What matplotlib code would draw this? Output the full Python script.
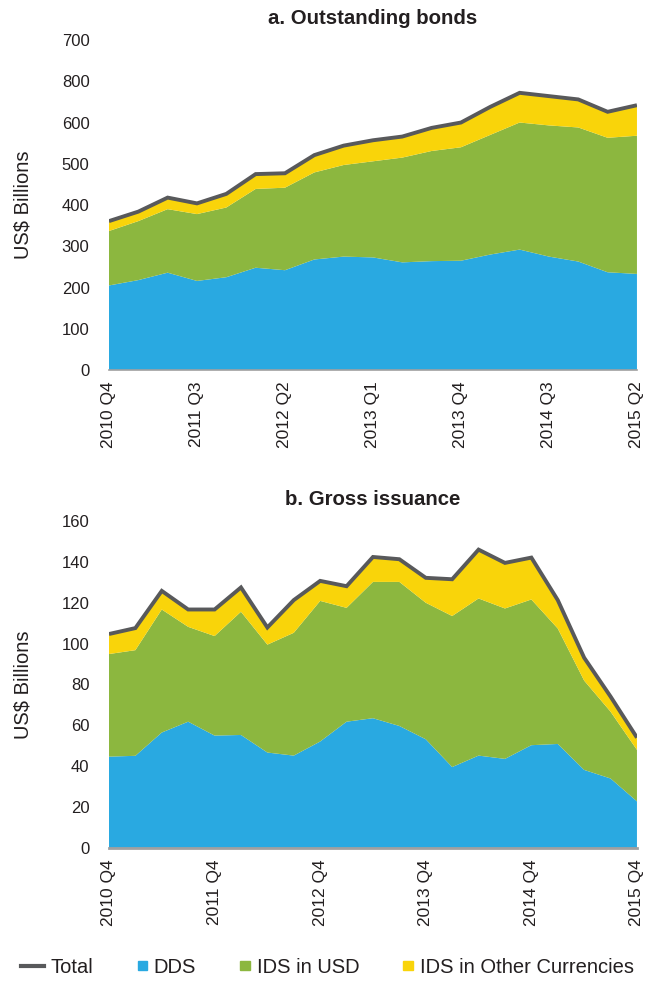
import numpy as np
import matplotlib
matplotlib.use("Agg")
import matplotlib.pyplot as plt
from matplotlib.lines import Line2D
from matplotlib.patches import Patch, Rectangle
from matplotlib.legend_handler import HandlerPatch

plt.rcParams['font.family'] = ['Liberation Sans', 'DejaVu Sans']

# a. outstanding bonds, 2010 Q4 .. 2015 Q2
out_dds = [205, 218, 236, 216, 225, 248, 242, 268, 275, 273, 261, 264, 265, 280, 292, 275, 263, 237, 233]
out_usd = [132, 143, 154, 162, 169, 191, 200, 211, 222, 233, 254, 267, 275, 290, 308, 318, 325, 326, 335]
out_oth = [24, 23, 28, 26, 33, 36, 35, 42, 47, 51, 51, 56, 60, 68, 72, 71, 68, 63, 74]
out_ticks = ['2010 Q4', '2011 Q3', '2012 Q2', '2013 Q1', '2013 Q4', '2014 Q3', '2015 Q2']
out_ylabels = ['0', '100', '200', '300', '400', '500', '600', '800', '700']

# b. gross issuance, 2010 Q4 .. 2015 Q4
iss_dds = [44.7, 45.1, 56.5, 61.8, 55.0, 55.3, 46.7, 45.2, 52.1, 61.8, 63.5,
           59.7, 53.2, 39.6, 45.2, 43.6, 50.3, 50.9, 38.2, 34.0, 22.8]
iss_usd = [50.2, 51.7, 60.2, 46.4, 48.7, 60.3, 52.8, 60.1, 68.8, 55.7, 66.7,
           70.5, 66.8, 73.9, 76.9, 73.6, 71.3, 56.5, 43.7, 32.7, 25.2]
iss_oth = [9.8, 10.8, 9.1, 8.5, 13.0, 11.9, 8.4, 16.0, 9.8, 10.6, 12.2,
           11.1, 12.2, 18.0, 23.9, 22.3, 20.5, 13.9, 11.2, 7.4, 6.0]
iss_ticks = ['2010 Q4', '2011 Q4', '2012 Q4', '2013 Q4', '2014 Q4', '2015 Q4']
iss_ylabels = ['0', '20', '40', '60', '80', '100', '120', '140', '160']

c_dds = '#29a9e1'
c_usd = '#8cb73f'
c_oth = '#f9d40a'
c_tot = '#58595b'
c_txt = '#231f20'

fig = plt.figure(figsize=(6.46, 9.81), dpi=100)
ax1 = fig.add_axes([0.1687, 0.6228, 0.8173, 0.3364])
ax2 = fig.add_axes([0.1687, 0.1356, 0.8173, 0.3333])


def draw(ax, dds, usd, oth, step, ticks, ylabels, ymax, ystep, title, spine_w):
    x = np.arange(len(dds))
    total = np.array(dds) + np.array(usd) + np.array(oth)
    ax.stackplot(x, dds, usd, oth, colors=[c_dds, c_usd, c_oth], linewidth=0)
    ax.plot(x, total, color=c_tot, lw=2.8, solid_joinstyle='miter', solid_capstyle='butt')
    ax.set_xlim(0, len(dds) - 1)
    ax.set_ylim(0, ymax)
    ax.set_xticks(x[::step])
    ax.set_xticklabels(ticks, rotation=90, fontsize=12.5)
    ax.set_yticks(np.arange(0, ymax + 1, ystep))
    ax.set_yticklabels(ylabels, fontsize=12)
    ax.tick_params(axis='y', length=0, pad=14, colors=c_txt)
    ax.tick_params(axis='x', length=0, labelcolor=c_txt, pad=8)
    for s in ['top', 'right', 'left']:
        ax.spines[s].set_visible(False)
    ax.spines['bottom'].set_color('#a0a0a0')
    ax.spines['bottom'].set_linewidth(spine_w)
    ax.set_ylabel('US$ Billions', fontsize=14.5, color=c_txt)
    ax.yaxis.set_label_coords(-0.145, 0.5)
    ax.set_title(title, fontsize=14.7, fontweight='bold', color=c_txt, pad=11.5)


draw(ax1, out_dds, out_usd, out_oth, 3, out_ticks, out_ylabels, 800, 100,
     'a. Outstanding bonds', 1.2)
draw(ax2, iss_dds, iss_usd, iss_oth, 4, iss_ticks, iss_ylabels, 160, 20,
     'b. Gross issuance', 2.0)


def small_square(legend, orig_handle, xdescent, ydescent, width, height, fontsize):
    # small square sitting at the right end of the handle box
    s = 6.6
    return Rectangle((-xdescent + width - s, -ydescent + (height - s) / 2), s, s)


handles = [Line2D([0], [0], color=c_tot, lw=3),
           Patch(color=c_dds), Patch(color=c_usd), Patch(color=c_oth)]
labels = ['Total', 'DDS', 'IDS in USD', 'IDS in Other Currencies']
fig.legend(handles, labels, loc='center', bbox_to_anchor=(0.507, 0.014), ncol=4,
           frameon=False, fontsize=14.5, handlelength=1.1, handleheight=0.7,
           handletextpad=0.35, columnspacing=1.55, labelcolor=c_txt,
           handler_map={Patch: HandlerPatch(patch_func=small_square)})

fig.savefig('out.png', dpi=100)
